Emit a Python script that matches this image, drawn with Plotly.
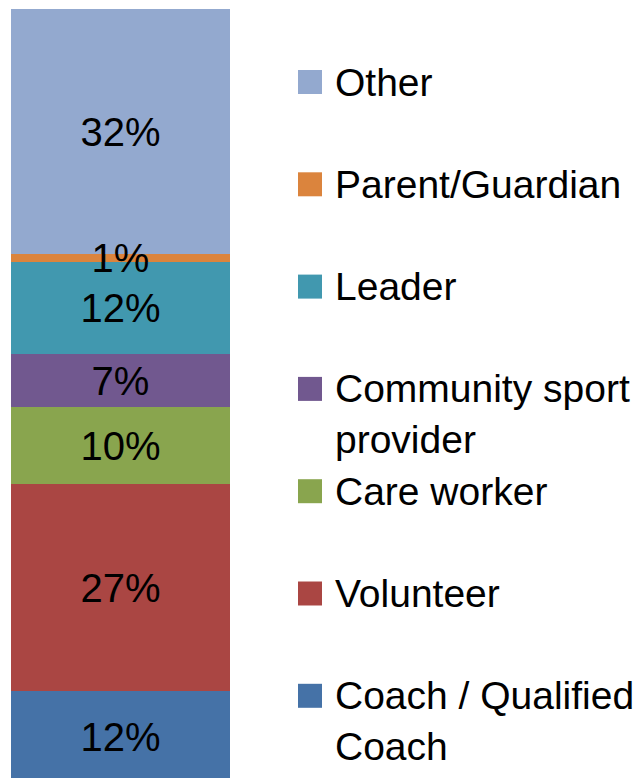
import plotly.graph_objects as go

# Data (bottom to top of the stacked bar)
categories = ["Coach / Qualified Coach", "Volunteer", "Care worker",
              "Community sport provider", "Leader", "Parent/Guardian", "Other"]
legend_labels = ["Coach / Qualified<br>Coach", "Volunteer", "Care worker",
                 "Community sport<br>provider", "Leader", "Parent/Guardian", "Other"]
values = [12, 27, 10, 7, 12, 1, 32]
colors = ["#4572A7", "#AA4643", "#89A54E", "#71588F", "#4198AF", "#DB843D", "#93A9CF"]

W, H = 635, 778
FONT = "Liberation Sans"
LABEL_SIZE = 40
LEGEND_SIZE = 39
Y_RANGE = [0.65, 102.17]
PX_PER_UNIT = H / (Y_RANGE[1] - Y_RANGE[0])
LABEL_NUDGE_PX = 4  # move labels slightly down to match reference

fig = go.Figure()
for cat, v, c in zip(categories, values, colors):
    fig.add_trace(go.Bar(
        x=[0], y=[v], name=cat, width=1,
        marker=dict(color=c, line=dict(width=0)),
        showlegend=False, hoverinfo="name+y",
    ))

# Percentage labels centred on each segment (drawn on top of all bars)
centers = []
running = 0
for v in values:
    centers.append(running + v / 2 - LABEL_NUDGE_PX / PX_PER_UNIT)
    running += v
fig.add_trace(go.Scatter(
    x=[0] * len(values), y=centers, mode="text",
    text=[f"{v}%" for v in values], textposition="middle center",
    textfont=dict(family=FONT, size=LABEL_SIZE, color="black"),
    showlegend=False, hoverinfo="skip", cliponaxis=False,
))

# Manual legend (Excel-style evenly spaced entries, top to bottom)
top_center = 82
step = 102.3
sw = 24
sw_left = 298
text_left = 333
shapes = []
annotations = []
for i, (lab, c) in enumerate(zip(reversed(legend_labels), reversed(colors))):
    cy = top_center + i * step
    shapes.append(dict(type="rect", xref="paper", yref="paper",
                       x0=sw_left / W, x1=(sw_left + sw) / W,
                       y0=1 - (cy + sw / 2) / H, y1=1 - (cy - sw / 2) / H,
                       fillcolor=c, line=dict(width=0)))
    nlines = lab.count("<br>") + 1
    center = cy + (nlines - 1) * 0.5 * 1.3 * LEGEND_SIZE
    annotations.append(dict(text=lab, xref="paper", yref="paper",
                            x=text_left / W, y=1 - center / H,
                            xanchor="left", yanchor="middle", align="left",
                            showarrow=False,
                            font=dict(family=FONT, size=LEGEND_SIZE, color="black")))

fig.update_layout(
    barmode="stack",
    width=W, height=H,
    margin=dict(l=0, r=0, t=0, b=0),
    paper_bgcolor="white", plot_bgcolor="white",
    xaxis=dict(domain=[11 / W, 230 / W], range=[-0.5, 0.5], visible=False, fixedrange=True),
    yaxis=dict(range=Y_RANGE, visible=False, fixedrange=True),
    shapes=shapes, annotations=annotations,
)

fig.write_html("out.html", config={"displayModeBar": False},
               post_script="document.body.style.margin='0';document.body.style.overflow='hidden';")
